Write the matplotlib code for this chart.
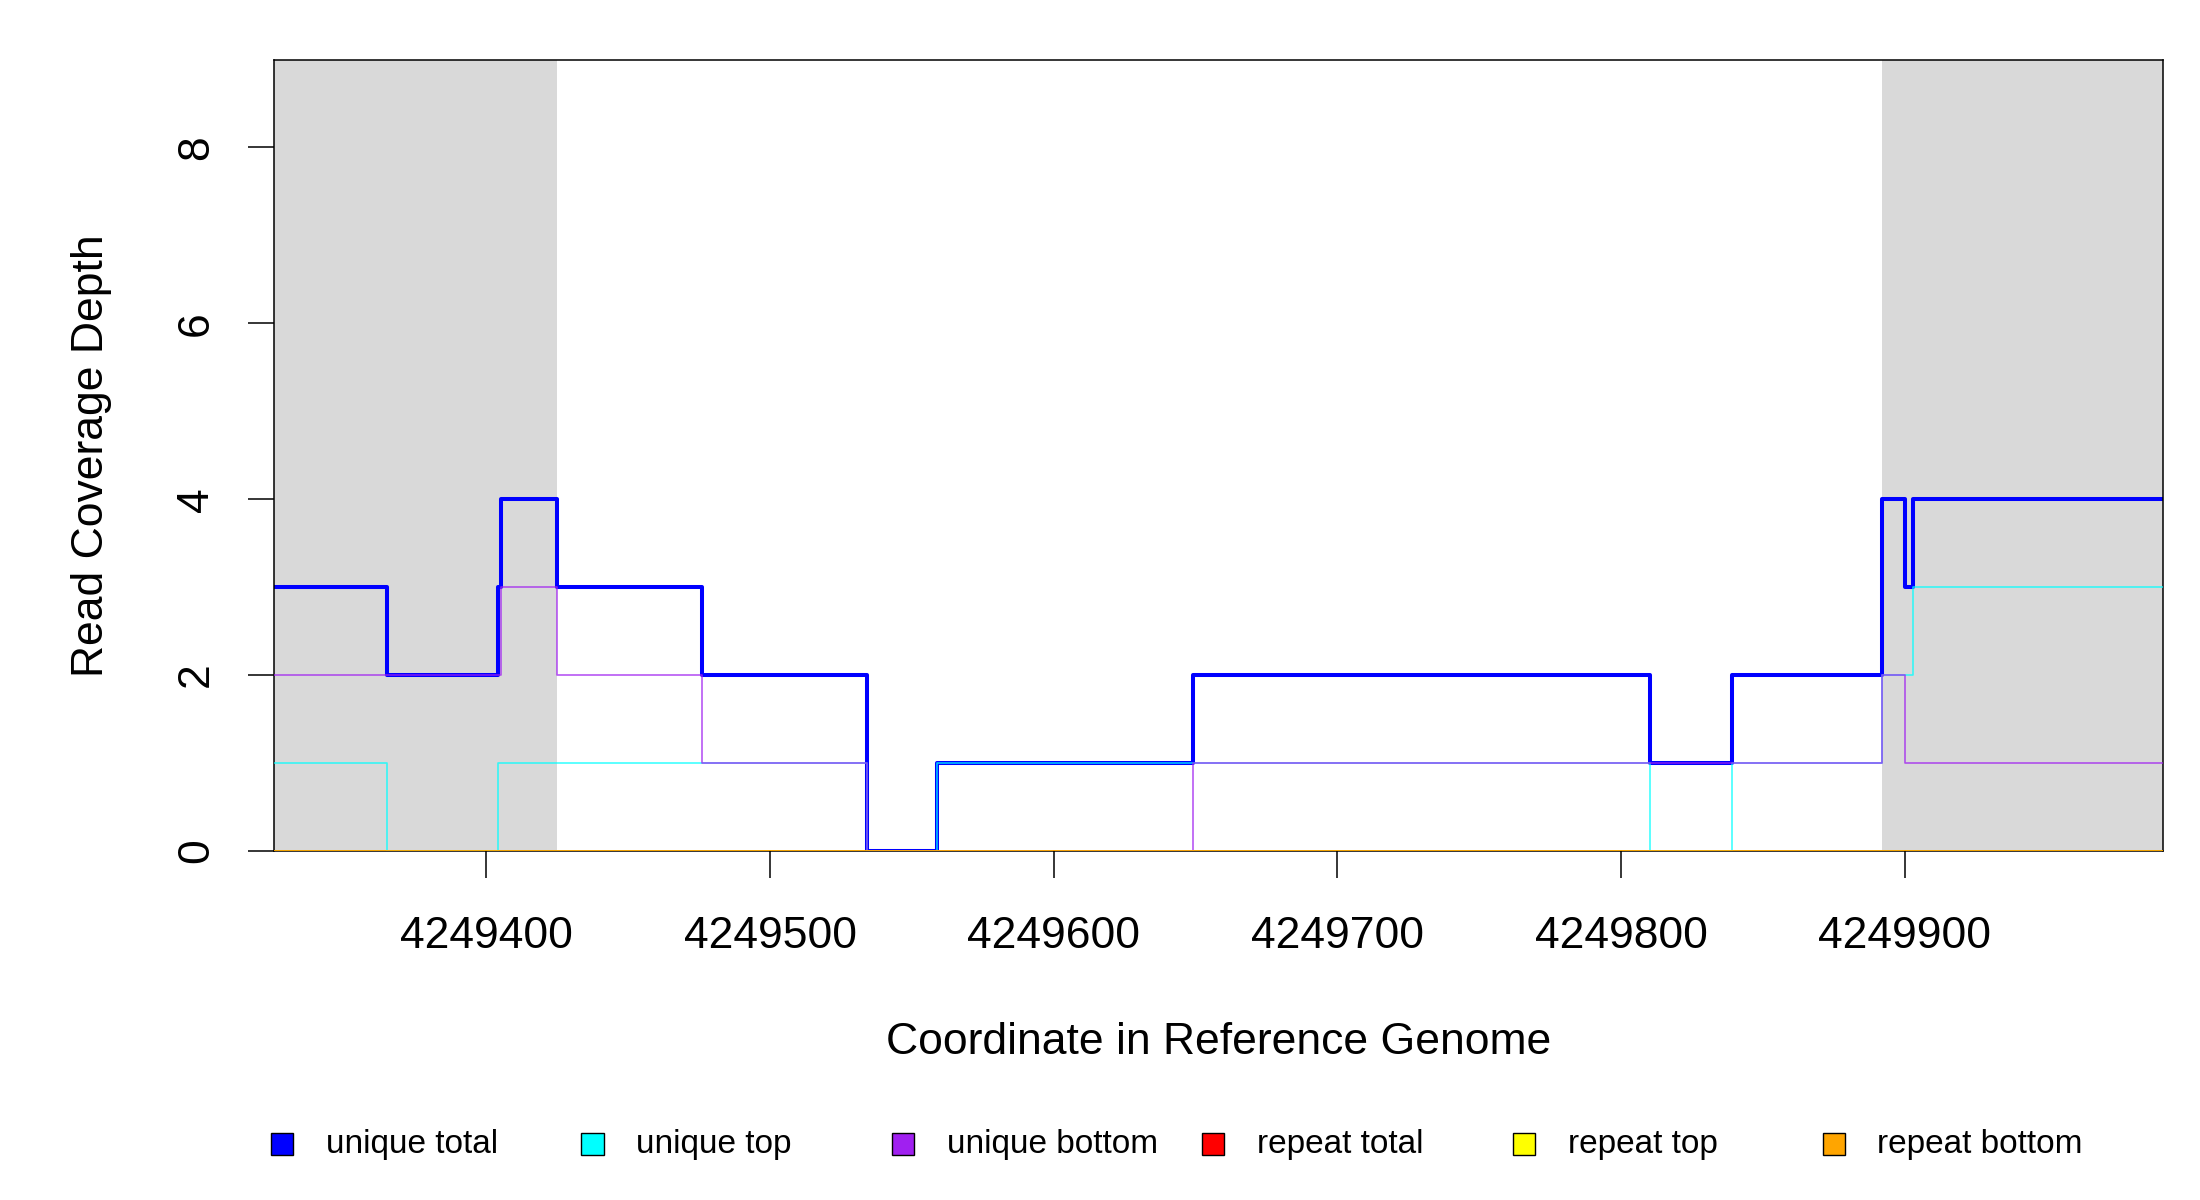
import matplotlib
matplotlib.use("Agg")
import matplotlib.pyplot as plt
from matplotlib.patches import Rectangle

plt.rcParams['font.family'] = ['Liberation Sans', 'DejaVu Sans']

# ---- data ----
breaks = [4249325, 4249365, 4249404, 4249405, 4249425, 4249476, 4249534,
          4249559, 4249649, 4249810, 4249839, 4249892, 4249900, 4249903, 4249991]
unique_top = [1, 0, 1, 1, 1, 1, 0, 1, 1, 0, 1, 2, 2, 3]
unique_bottom = [2, 2, 2, 3, 2, 1, 0, 0, 1, 1, 1, 2, 1, 1]
unique_total = [t + b for t, b in zip(unique_top, unique_bottom)]
repeat_total = [0] * 14
repeat_top = [0] * 14
repeat_bottom = [0] * 14
flank_left = (4249325, 4249425)
flank_right = (4249892, 4249991)
xticks = [4249400, 4249500, 4249600, 4249700, 4249800, 4249900]
yticks = [0, 2, 4, 6, 8]

series_names = ["unique total", "unique top", "unique bottom",
                "repeat total", "repeat top", "repeat bottom"]
series_vals = [unique_total, unique_top, unique_bottom,
               repeat_total, repeat_top, repeat_bottom]
series_cols = ["#0000FF", "#00FFFF", "#A020F0", "#FF0000", "#FFFF00", "#FFA500"]

W, H = 2200, 1200
fig = plt.figure(figsize=(22, 12), dpi=100)
ax_l, ax_r, ax_t, ax_b = 273.6, 2163, 59.5, 851
ax = fig.add_axes([ax_l / W, 1 - ax_b / H, (ax_r - ax_l) / W, (ax_b - ax_t) / H])

ax.axvspan(*flank_left, color="#D9D9D9", lw=0, zorder=0)
ax.axvspan(*flank_right, color="#D9D9D9", lw=0, zorder=0)

for i, (name, vals, col) in enumerate(zip(series_names, series_vals, series_cols)):
    if i == 0:
        lw, alpha = 2.9, 1.0
    elif i < 3:
        lw, alpha = 1.2, 0.75
    else:
        lw, alpha = 1.8, 0.8
    ax.step(breaks, vals + [vals[-1]], where="post", color=col, lw=lw,
            alpha=alpha, zorder=2 + i)

ax.set_xlim(breaks[0], breaks[-1])
ax.set_ylim(0, 9)
ax.set_xticks(xticks)
ax.set_xticklabels([str(v) for v in xticks])
ax.set_yticks(yticks)
ax.set_yticklabels([str(v) for v in yticks])
ax.tick_params(axis="x", labelsize=32, length=19.4, width=1.1, pad=27.5)
ax.tick_params(axis="y", labelsize=32, length=18.4, width=1.1, pad=22.5)
plt.setp(ax.get_yticklabels(), rotation=90, va="center")
for s in ax.spines.values():
    s.set_linewidth(1.1)

ax_cy = 1 - ((ax_t + ax_b) / 2) / H
fig.text(92 / W, ax_cy, "Read Coverage Depth", rotation=90, ha="center",
         va="center", fontsize=32)
fig.text(((ax_l + ax_r) / 2) / W, 1 - 1043 / H, "Coordinate in Reference Genome",
         ha="center", va="center", fontsize=32)

# legend row
sq_x = [282, 592.5, 903, 1213, 1524, 1834]
tx_x = [326, 636.5, 947, 1257, 1568, 1877]
leg_y = 1144
sq = 22.7
for name, col, sx, tx in zip(series_names, series_cols, sq_x, tx_x):
    fig.patches.append(Rectangle(((sx - sq / 2) / W, 1 - (leg_y + sq / 2) / H),
                                 sq / W, sq / H, transform=fig.transFigure,
                                 facecolor=col, edgecolor="black", lw=1.0))
    fig.text(tx / W, 1 - leg_y / H, name, ha="left", va="center", fontsize=24)

fig.savefig("out.png", dpi=100)
